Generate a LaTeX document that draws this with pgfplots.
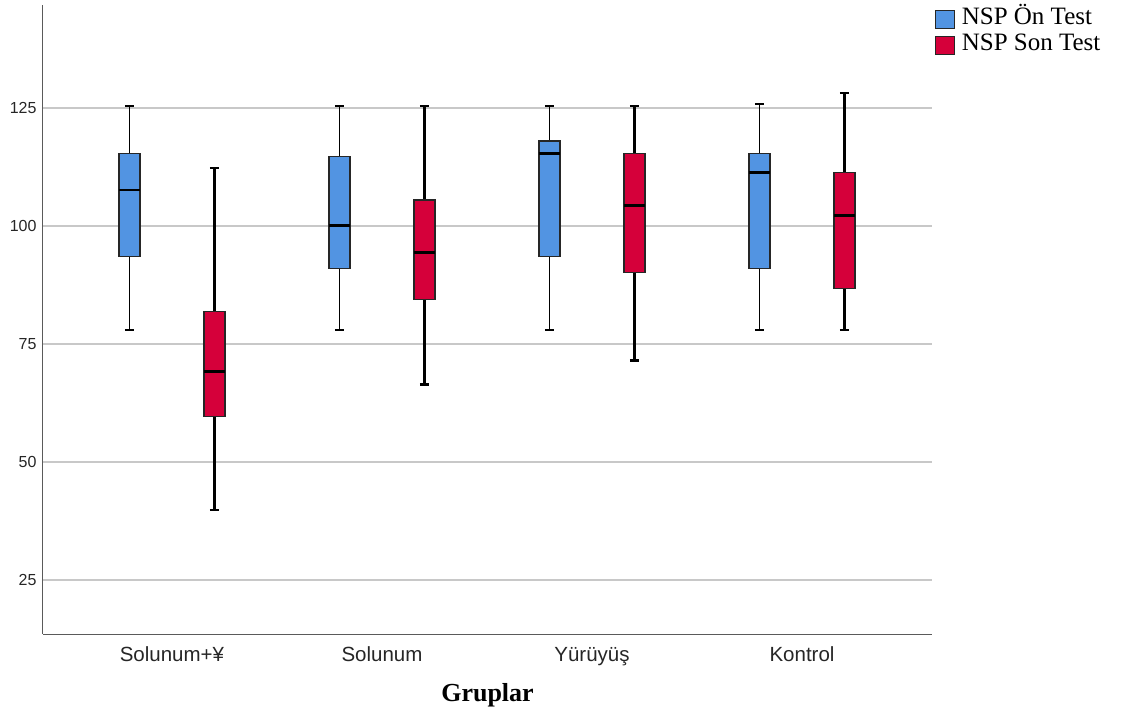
\documentclass[border=0pt]{standalone}
\usepackage{fontspec}
\setmainfont{Liberation Sans}
\newfontfamily\seriffont{Liberation Serif}
\usepackage{pgfplots}
\pgfplotsset{compat=1.18}
\definecolor{onblue}{RGB}{82,148,226}
\definecolor{sonred}{RGB}{213,0,58}
\definecolor{gridgray}{RGB}{200,200,200}
\definecolor{axgray}{RGB}{90,90,90}
\pgfplotsset{
  whiskon/.style={black, line width=1.5pt, forget plot, mark=none},
  whiskson/.style={black, line width=2.2pt, forget plot, mark=none},
  boxon/.style={fill=onblue, draw=black!85, line width=1.2pt, forget plot, mark=none},
  boxson/.style={fill=sonred, draw=black!85, line width=1.2pt, forget plot, mark=none},
  med/.style={black, line width=2.8pt, forget plot, mark=none},
}
\begin{document}
\begin{tikzpicture}
\path[use as bounding box] (-43pt,-81pt) rectangle (1078pt,634pt);
\begin{axis}[
  at={(0pt,0pt)}, anchor=south west,
  scale only axis, width=889pt, height=629pt,
  xmin=-0.614, xmax=3.619, ymin=13.56, ymax=146.8,
  axis x line*=bottom, axis y line*=left,
  axis line style={axgray, line width=1pt},
  xtick={0,1,2,3},
  xticklabels={Solunum+¥, Solunum, Yürüyüş, Kontrol},
  ytick={25,50,75,100,125},
  major tick length=0pt,
  ymajorgrids, grid style={gridgray, line width=1.3pt},
  yticklabel style={font=\fontsize{16}{18}\selectfont, text=black!85, xshift=-3pt},
  xticklabel style={font=\fontsize{20.5}{22}\selectfont, text=black!85, anchor=base, yshift=-27pt},
  /pgf/number format/assume math mode=true,
  xlabel={\seriffont\bfseries Gruplar},
  xlabel style={font=\fontsize{26}{28}\selectfont, anchor=base, at={(axis description cs:0.5,0)}, yshift=-67pt},
  unbounded coords=jump,
  clip=false,
  legend style={at={(axis description cs:1,1)}, anchor=north west, xshift=3pt, yshift=-3pt,
    draw=none, fill=none,
    font=\seriffont\fontsize{25}{26}\selectfont, row sep=3pt,
    inner sep=0pt, outer sep=0pt,
    nodes={inner sep=0pt, text height=17pt, text depth=6pt}},
  legend cell align=left,
]
\addlegendimage{legend image code/.code={\draw[fill=onblue,draw=black!85,line width=1.2pt] (0pt,-9pt) rectangle (19pt,9pt); \path (26pt,0pt);}}
\addlegendentry{NSP Ön Test}
\addlegendimage{legend image code/.code={\draw[fill=sonred,draw=black!85,line width=1.2pt] (0pt,-9pt) rectangle (19pt,9pt); \path (26pt,0pt);}}
\addlegendentry{NSP Son Test}
% ---------- Solunum+Y ----------
% On Test: lw 78.0, q1 93.6, med 107.6, q3 115.4, uw 125.4
\addplot[whiskon] coordinates {(-0.2024,115.4) (-0.2024,125.4) (nan,nan) (-0.2244,125.4) (-0.1804,125.4) (nan,nan) (-0.2024,93.6) (-0.2024,78.0) (nan,nan) (-0.2244,78.0) (-0.1804,78.0)};
\addplot[boxon] coordinates {(-0.2524,93.6) (-0.1524,93.6) (-0.1524,115.4) (-0.2524,115.4)} --cycle;
\addplot[med] coordinates {(-0.2524,107.6) (-0.1524,107.6)};
% Son Test: lw 39.8, q1 59.6, med 69.1, q3 81.8, uw 112.3
\addplot[whiskson] coordinates {(0.2024,81.8) (0.2024,112.3) (nan,nan) (0.1804,112.3) (0.2244,112.3) (nan,nan) (0.2024,59.6) (0.2024,39.8) (nan,nan) (0.1804,39.8) (0.2244,39.8)};
\addplot[boxson] coordinates {(0.1524,59.6) (0.2524,59.6) (0.2524,81.8) (0.1524,81.8)} --cycle;
\addplot[med] coordinates {(0.1524,69.1) (0.2524,69.1)};
% ---------- Solunum ----------
% On: 78.0, 91.0, 100.1, 114.7, 125.4
\addplot[whiskon] coordinates {(0.7976,114.7) (0.7976,125.4) (nan,nan) (0.7756,125.4) (0.8196,125.4) (nan,nan) (0.7976,91.0) (0.7976,78.0) (nan,nan) (0.7756,78.0) (0.8196,78.0)};
\addplot[boxon] coordinates {(0.7476,91.0) (0.8476,91.0) (0.8476,114.7) (0.7476,114.7)} --cycle;
\addplot[med] coordinates {(0.7476,100.1) (0.8476,100.1)};
% Son: 66.4, 84.5, 94.4, 105.5, 125.4
\addplot[whiskson] coordinates {(1.2024,105.5) (1.2024,125.4) (nan,nan) (1.1804,125.4) (1.2244,125.4) (nan,nan) (1.2024,84.5) (1.2024,66.4) (nan,nan) (1.1804,66.4) (1.2244,66.4)};
\addplot[boxson] coordinates {(1.1524,84.5) (1.2524,84.5) (1.2524,105.5) (1.1524,105.5)} --cycle;
\addplot[med] coordinates {(1.1524,94.4) (1.2524,94.4)};
% ---------- Yuruyus ----------
% On: 78.0, 93.6, 115.3, 118.0, 125.4
\addplot[whiskon] coordinates {(1.7976,118.0) (1.7976,125.4) (nan,nan) (1.7756,125.4) (1.8196,125.4) (nan,nan) (1.7976,93.6) (1.7976,78.0) (nan,nan) (1.7756,78.0) (1.8196,78.0)};
\addplot[boxon] coordinates {(1.7476,93.6) (1.8476,93.6) (1.8476,118.0) (1.7476,118.0)} --cycle;
\addplot[med] coordinates {(1.7476,115.3) (1.8476,115.3)};
% Son: 71.5, 90.1, 104.4, 115.3, 125.4
\addplot[whiskson] coordinates {(2.2024,115.3) (2.2024,125.4) (nan,nan) (2.1804,125.4) (2.2244,125.4) (nan,nan) (2.2024,90.1) (2.2024,71.5) (nan,nan) (2.1804,71.5) (2.2244,71.5)};
\addplot[boxson] coordinates {(2.1524,90.1) (2.2524,90.1) (2.2524,115.3) (2.1524,115.3)} --cycle;
\addplot[med] coordinates {(2.1524,104.4) (2.2524,104.4)};
% ---------- Kontrol ----------
% On: 78.0, 91.0, 111.4, 115.3, 125.8
\addplot[whiskon] coordinates {(2.7976,115.3) (2.7976,125.8) (nan,nan) (2.7756,125.8) (2.8196,125.8) (nan,nan) (2.7976,91.0) (2.7976,78.0) (nan,nan) (2.7756,78.0) (2.8196,78.0)};
\addplot[boxon] coordinates {(2.7476,91.0) (2.8476,91.0) (2.8476,115.3) (2.7476,115.3)} --cycle;
\addplot[med] coordinates {(2.7476,111.4) (2.8476,111.4)};
% Son: 78.0, 86.8, 102.2, 111.4, 128.2
\addplot[whiskson] coordinates {(3.2024,111.4) (3.2024,128.2) (nan,nan) (3.1804,128.2) (3.2244,128.2) (nan,nan) (3.2024,86.8) (3.2024,78.0) (nan,nan) (3.1804,78.0) (3.2244,78.0)};
\addplot[boxson] coordinates {(3.1524,86.8) (3.2524,86.8) (3.2524,111.4) (3.1524,111.4)} --cycle;
\addplot[med] coordinates {(3.1524,102.2) (3.2524,102.2)};
\end{axis}
\end{tikzpicture}
\end{document}
